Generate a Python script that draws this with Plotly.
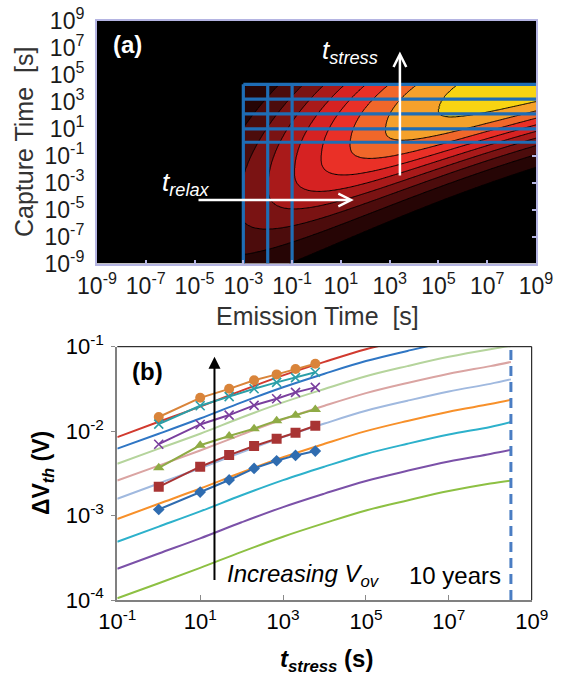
import numpy as np
import plotly.graph_objects as go

FONT = "Liberation Sans, Arial, Helvetica, sans-serif"

# ======================= panel (a): capture / emission time map =======================
A_TICKS = [-9, -7, -5, -3, -1, 1, 3, 5, 7, 9]            # log10 of time [s]
A_TICKTEXT = [f"10<sup>{k}</sup>" for k in A_TICKS]
A_RIGHT_TICKS = [-7, -5, -3, -1]
RELAX_LOG = [-3, -2, -1]                  # vertical blue lines, log10 t_relax
STRESS_LOG = [0, 1, 2.1, 3.2, 4.3]        # horizontal blue lines, log10 t_stress

# shape of the CET map (log10 units)
MAP_U_MIN = RELAX_LOG[0]
MAP_V_MAX = STRESS_LOG[-1]
RIDGE_END = 9.9          # ridge line of the density, v = END - DROP*exp(-(u-U_MIN)/SCALE)
RIDGE_DROP = 14.4
RIDGE_SCALE = 12.5
AMP_MID = -0.9           # density on the ridge rises with emission time
AMP_SCALE = 2.69
WIDTH_ABOVE = 8.0        # spread above the ridge (decades)
WIDTH_BELOW_LEFT = 5.5   # spread below the ridge at t_e = 1e-3 s
WIDTH_BELOW_RIGHT = 4.3  # spread below the ridge at t_e = 1e9 s
PROFILE_POWER = 2.2
MAP_LEVELS = dict(start=0.1, end=0.95, size=0.1)
MAP_COLORS = ["#000000", "#260505", "#4c0c0c", "#7a1313", "#a91a1a",
              "#d62222", "#ea3027", "#f0672a", "#f5a12b", "#f8d412"]

LAV = "#b4b4e2"
GRID_BLUE = "#1f6db5"

# ======================= panel (b): dVth vs t_stress =======================
T_GRID = [0.1, 1, 10, 100, 1e3, 1e4, 1e5, 1e6, 1e7, 1e8, 3.15e8]
DV_RED = [8.5e-3, 0.0129, 0.0195, 0.0302, 0.0457, 0.0661, 0.0933, 0.123, 0.158, 0.195, 0.214]
DV_BLUE = [6.2e-3, 9.3e-3, 0.0141, 0.0219, 0.0331, 0.0479, 0.0676, 0.0891, 0.115, 0.141, 0.155]
DV_LGREEN = [4.1e-3, 6.2e-3, 9.3e-3, 0.0145, 0.0219, 0.0316, 0.0447, 0.0589, 0.0759, 0.0933, 0.102]
DV_PINK = [2.6e-3, 3.9e-3, 5.9e-3, 9.1e-3, 0.0138, 0.0200, 0.0282, 0.0372, 0.0479, 0.0589, 0.066]
DV_LBLUE = [1.58e-3, 2.4e-3, 3.63e-3, 5.62e-3, 8.5e-3, 0.0123, 0.0174, 0.0229, 0.0295, 0.0363, 0.041]
DV_ORANGE = [9.1e-4, 1.38e-3, 2.09e-3, 3.24e-3, 4.9e-3, 7.08e-3, 0.0100, 0.0132, 0.0170, 0.0209, 0.0235]
DV_CYAN = [4.9e-4, 7.4e-4, 1.12e-3, 1.74e-3, 2.63e-3, 3.8e-3, 5.37e-3, 7.08e-3, 9.12e-3, 0.0112, 0.0128]
DV_PURPLE = [2.34e-4, 3.55e-4, 5.37e-4, 8.32e-4, 1.26e-3, 1.82e-3, 2.57e-3, 3.39e-3, 4.37e-3, 5.37e-3, 6.0e-3]
DV_GREEN = [1.05e-4, 1.58e-4, 2.4e-4, 3.72e-4, 5.62e-4, 8.13e-4, 1.15e-3, 1.51e-3, 1.95e-3, 2.4e-3, 2.6e-3]
CURVES = [(DV_RED, "#d13a2f"), (DV_BLUE, "#2f76c4"), (DV_LGREEN, "#b5d49c"),
          (DV_PINK, "#daa4a2"), (DV_LBLUE, "#a0b9df"), (DV_ORANGE, "#f7902a"),
          (DV_CYAN, "#2db1cb"), (DV_PURPLE, "#7b51a8"), (DV_GREEN, "#8dc043")]

T_MEAS = [1, 10, 50, 200, 700, 2000, 6000]
M_CIRCLE = [0.0147, 0.0248, 0.0317, 0.0400, 0.0470, 0.0545, 0.0627]
M_TEALX = [0.0121, 0.0200, 0.0256, 0.0318, 0.0378, 0.0430, 0.0498]
M_PURPX = [7.0e-3, 0.0120, 0.0155, 0.0202, 0.0242, 0.0288, 0.0330]
M_TRI = [3.68e-3, 6.8e-3, 8.75e-3, 0.0107, 0.0133, 0.0154, 0.0181]
M_SQ = [2.19e-3, 3.79e-3, 5.2e-3, 6.66e-3, 8.13e-3, 9.57e-3, 0.0116]
M_DIA = [1.18e-3, 1.90e-3, 2.64e-3, 3.62e-3, 4.46e-3, 5.16e-3, 5.81e-3]
MEAS = [(M_CIRCLE, "#d9843a", "circle", 10, 0), (M_TEALX, "#2b9fa8", "x-thin-open", 9, 1.6),
        (M_PURPX, "#7a3f9e", "x-thin-open", 9, 1.6), (M_TRI, "#8fab45", "triangle-up", 10, 0),
        (M_SQ, "#a83434", "square", 10, 0), (M_DIA, "#2f6cb0", "diamond", 9, 0)]

TEN_YEARS = 3.15e8
B_XTICKS = [0.1, 10, 1e3, 1e5, 1e7, 1e9]
B_XTEXT = ["10<sup>-1</sup>", "10<sup>1</sup>", "10<sup>3</sup>", "10<sup>5</sup>",
           "10<sup>7</sup>", "10<sup>9</sup>"]
B_YTICKS = [1e-4, 1e-3, 1e-2, 1e-1]
B_YTEXT = ["10<sup>-4</sup>", "10<sup>-3</sup>", "10<sup>-2</sup>", "10<sup>-1</sup>"]

W, H = 563, 678

fig = go.Figure()

# ---------- map field ----------
U = np.round(np.arange(-9, 9.0001, 0.05), 3)
V = np.round(np.arange(-9, 9.0001, 0.05), 3)
UU, VV = np.meshgrid(U, V)
amp = 1.0 / (1.0 + np.exp(-(UU - AMP_MID) / AMP_SCALE))
ridge = RIDGE_END - RIDGE_DROP * np.exp(-(UU - MAP_U_MIN) / RIDGE_SCALE)
frac = np.clip((UU - MAP_U_MIN) / (9 - MAP_U_MIN), 0, 1)
w_below = WIDTH_BELOW_LEFT + (WIDTH_BELOW_RIGHT - WIDTH_BELOW_LEFT) * frac
width = np.where(VV >= ridge, WIDTH_ABOVE, w_below)
Z = amp * np.exp(-(np.abs(VV - ridge) / width) ** PROFILE_POWER)
Z[(UU < MAP_U_MIN) | (VV > MAP_V_MAX)] = 0.0
Z = np.round(Z, 3)

cscale = [[i / (len(MAP_COLORS) - 1), c] for i, c in enumerate(MAP_COLORS)]
fig.add_trace(go.Contour(
    x=U, y=V, z=Z, xaxis="x", yaxis="y", zmin=0, zmax=1,
    contours=dict(coloring="fill", **MAP_LEVELS),
    colorscale=cscale, showscale=False, hoverinfo="skip",
    line=dict(color="black", width=1, smoothing=1.0),
))

for u in RELAX_LOG:
    fig.add_trace(go.Scatter(x=[u, u], y=[-9, MAP_V_MAX], mode="lines", xaxis="x", yaxis="y",
                             line=dict(color=GRID_BLUE, width=3.2), showlegend=False,
                             hoverinfo="skip"))
for v in STRESS_LOG:
    fig.add_trace(go.Scatter(x=[MAP_U_MIN, 9], y=[v, v], mode="lines", xaxis="x", yaxis="y",
                             line=dict(color=GRID_BLUE, width=3.2), showlegend=False,
                             hoverinfo="skip"))
fig.add_trace(go.Scatter(x=[None], y=[None], xaxis="x", yaxis="y3", showlegend=False))

# ---------- panel (b) ----------
for vals, col in CURVES:
    fig.add_trace(go.Scatter(x=T_GRID, y=vals, mode="lines", xaxis="x2", yaxis="y2",
                             line=dict(color=col, width=2, shape="spline"),
                             showlegend=False, hoverinfo="skip"))
for vals, col, sym, size, lw in MEAS:
    fig.add_trace(go.Scatter(x=T_MEAS, y=vals, mode="lines+markers", xaxis="x2", yaxis="y2",
                             line=dict(color=col, width=2),
                             marker=dict(symbol=sym, size=size, color=col,
                                         line=dict(color=col, width=lw)),
                             showlegend=False, hoverinfo="skip"))
fig.add_trace(go.Scatter(x=[TEN_YEARS, TEN_YEARS], y=[B_YTICKS[0], B_YTICKS[-1]], mode="lines",
                         xaxis="x2", yaxis="y2",
                         line=dict(color="#4a7dc3", width=3, dash="10px,6px"),
                         showlegend=False, hoverinfo="skip"))

tickfont = dict(family=FONT, size=23, color="#1a1a1a")
btickfont = dict(family=FONT, size=22, color="black")
fig.update_layout(
    width=W, height=H, margin=dict(l=0, r=0, t=0, b=0, autoexpand=False),
    paper_bgcolor="white", plot_bgcolor="white", showlegend=False,
    font=dict(family=FONT),
    xaxis=dict(domain=[97 / W, 536 / W], anchor="y", range=[-9, 9], tickvals=A_TICKS,
               ticktext=A_TICKTEXT, ticks="inside", ticklen=4, tickcolor=LAV, tickwidth=1.5,
               showline=True, linecolor=LAV, linewidth=2, mirror=True, showgrid=False,
               zeroline=False, tickfont=tickfont, ticklabelstandoff=1, automargin=False),
    yaxis=dict(domain=[1 - 263.5 / H, 1 - 21 / H], anchor="x", range=[-9, 9], tickvals=A_TICKS,
               ticktext=A_TICKTEXT, ticks="", showline=True, linecolor=LAV, linewidth=2,
               mirror=True, showgrid=False, zeroline=False, tickfont=tickfont,
               ticklabelstandoff=6, automargin=False),
    yaxis3=dict(overlaying="y", anchor="x", side="right", range=[-9, 9], tickvals=A_RIGHT_TICKS,
                ticks="inside", ticklen=4, tickcolor=LAV, tickwidth=1.5, showticklabels=False,
                showgrid=False, zeroline=False, showline=False, automargin=False),
    xaxis2=dict(domain=[117.3 / W, 531.7 / W], anchor="y2", type="log", range=[-1, 9],
                tickvals=B_XTICKS, ticktext=B_XTEXT, ticks="inside", ticklen=5, tickcolor="#8a8a8a",
                showline=True, linecolor="#808080", linewidth=2, showgrid=False, zeroline=False,
                tickfont=btickfont, ticklabelstandoff=1, automargin=False),
    yaxis2=dict(domain=[1 - 600 / H, 1 - 346.7 / H], anchor="x2", type="log", range=[-4, -1],
                tickvals=B_YTICKS, ticktext=B_YTEXT, ticks="outside", ticklen=4,
                tickcolor="#8a8a8a", showline=True, linecolor="#808080", linewidth=2,
                showgrid=False, zeroline=False, tickfont=btickfont, ticklabelstandoff=3,
                automargin=False),
    shapes=[
        dict(type="line", xref="x2 domain", yref="y2 domain", x0=0, x1=1, y0=1, y1=1,
             line=dict(color="black", width=1)),
        dict(type="line", xref="x2 domain", yref="y2 domain", x0=1, x1=1, y0=0, y1=1,
             line=dict(color="black", width=1)),
    ],
)

C = dict(xanchor="center", yanchor="middle", showarrow=False)
ann = []
# axis titles
ann.append(dict(text="Capture Time\u00a0\u00a0[s]", xref="paper", yref="paper", x=24 / W,
                y=1 - 142 / H, textangle=-90,
                font=dict(family=FONT, size=25, color="#333333"), **C))
ann.append(dict(text="Emission Time\u00a0\u00a0[s]", xref="paper", yref="paper", x=317 / W,
                y=1 - 316 / H, font=dict(family=FONT, size=25, color="#333333"), **C))
ann.append(dict(text="<b>\u0394V<sub><i>th</i></sub> (V)</b>", xref="paper", yref="paper",
                x=42 / W, y=1 - 473 / H, textangle=-90,
                font=dict(family=FONT, size=23, color="black"), **C))
ann.append(dict(text="<b><i>t</i><sub><i>stress</i></sub> (s)</b>", xref="paper", yref="paper",
                x=326 / W, y=1 - 660 / H, font=dict(family=FONT, size=24, color="black"), **C))
# panel (a) labels
ann.append(dict(text="<b>(a)</b>", xref="x", yref="y", x=-7.73, y=7.25,
                font=dict(family=FONT, size=24, color="white"), **C))
ann.append(dict(text="<i>t<sub>stress</sub></i>", xref="x", yref="y", x=0.14, y=6.74,
                xanchor="left", yanchor="middle", showarrow=False,
                font=dict(family=FONT, size=26, color="white")))
ann.append(dict(text="<i>t<sub>relax</sub></i>", xref="x", yref="y", x=-6.42, y=-3.04,
                xanchor="left", yanchor="middle", showarrow=False,
                font=dict(family=FONT, size=26, color="white")))
ann.append(dict(text="", xref="x", yref="y", axref="x", ayref="y", x=1.53, y=-4.29,
                ax=-4.9, ay=-4.29, showarrow=True, arrowhead=5, arrowsize=1, arrowwidth=2.5,
                arrowcolor="white"))
ann.append(dict(text="", xref="x", yref="y", axref="x", ayref="y", x=3.42, y=6.74,
                ax=3.42, ay=-2.58, showarrow=True, arrowhead=5, arrowsize=1, arrowwidth=2.5,
                arrowcolor="white"))
# panel (b) labels
ann.append(dict(text="<b>(b)</b>", xref="x2", yref="y2", x=-0.27, y=-1.288,
                font=dict(family=FONT, size=24, color="black"), **C))
ann.append(dict(text="", xref="x2", yref="y2", axref="x2", ayref="y2", x=1.345, y=-1.12,
                ax=1.345, ay=-3.78, showarrow=True, arrowhead=2, arrowsize=1.2, arrowwidth=2,
                arrowcolor="black"))
ann.append(dict(text="<i>Increasing V<sub>ov</sub></i>", xref="x2", yref="y2", x=1.60, y=-3.705,
                xanchor="left", yanchor="middle", showarrow=False,
                font=dict(family=FONT, size=24, color="black")))
ann.append(dict(text="10 years", xref="x2", yref="y2", x=5.99, y=-3.705,
                xanchor="left", yanchor="middle", showarrow=False,
                font=dict(family=FONT, size=24, color="black")))
fig.update_layout(annotations=ann)

fig.write_html("out.html")
